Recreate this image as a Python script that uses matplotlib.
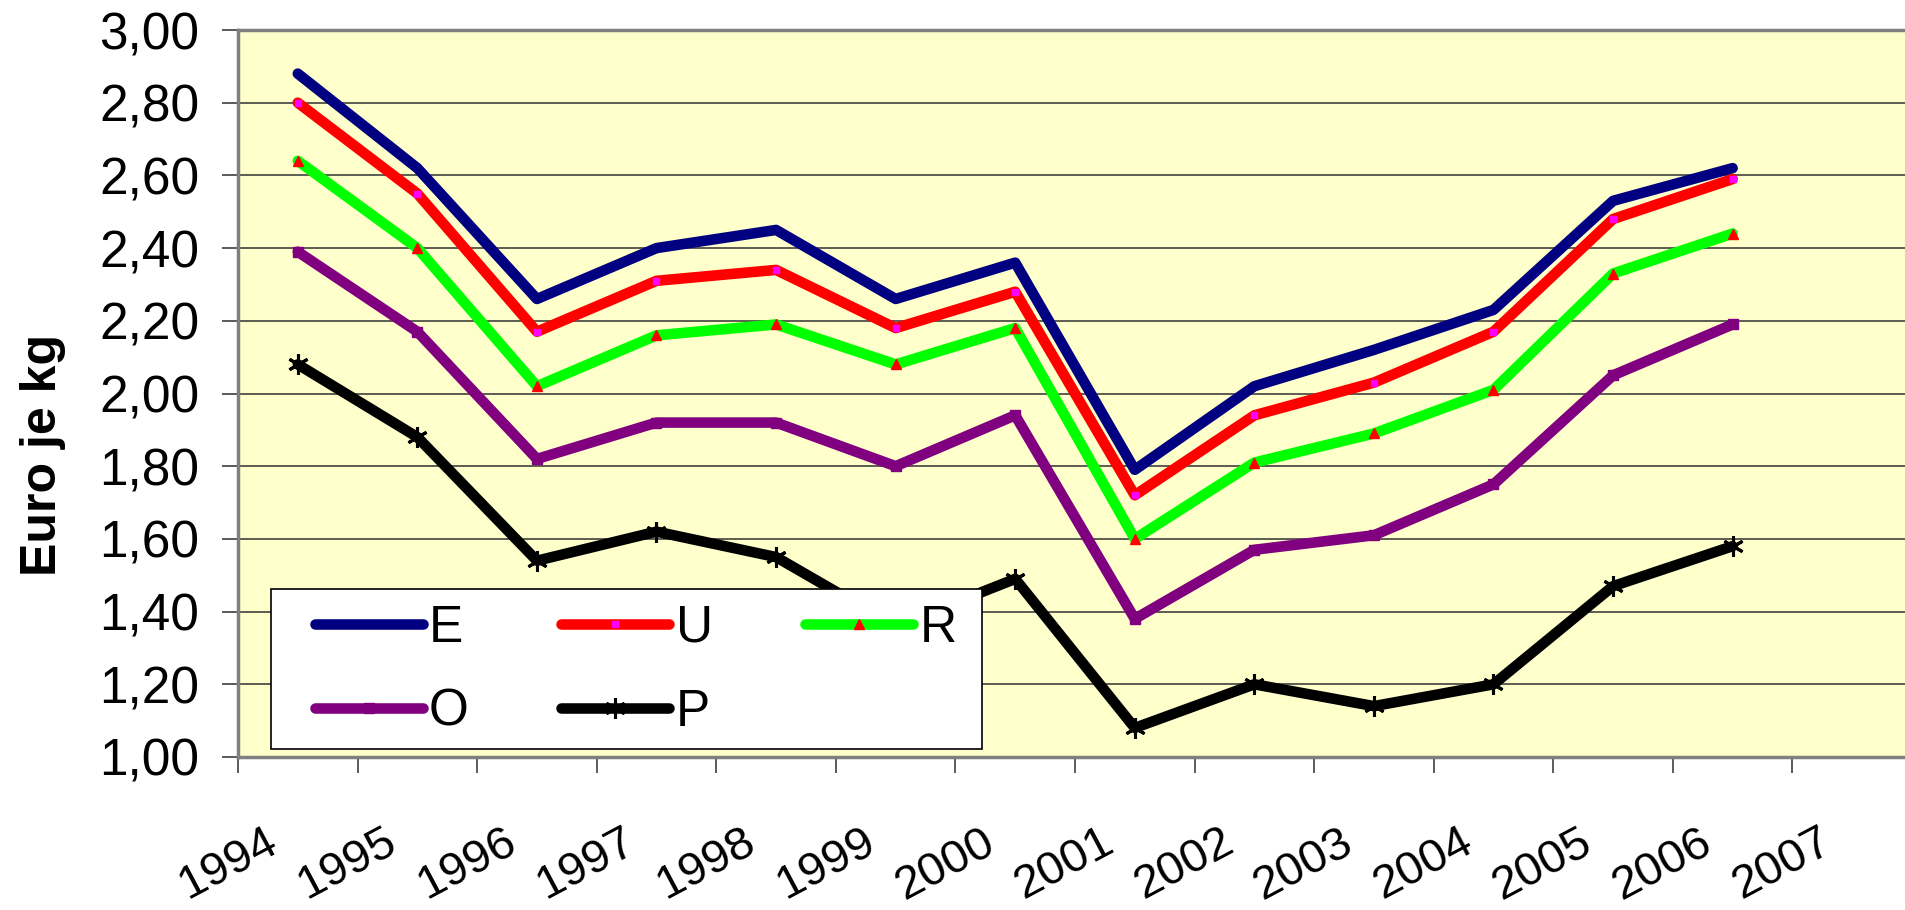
"""Euro je kg, 1994-2007: five price series as thick lines over a pale yellow
plot area, Excel-style legend box sitting over the lower left."""
import matplotlib
matplotlib.use("Agg")
import matplotlib.pyplot as plt
import matplotlib.transforms as mtransforms
from matplotlib.patches import Rectangle
from matplotlib.ticker import FuncFormatter, FixedLocator

plt.rcParams["font.family"] = ["Liberation Sans", "DejaVu Sans"]

years = ["1994", "1995", "1996", "1997", "1998", "1999", "2000",
         "2001", "2002", "2003", "2004", "2005", "2006", "2007"]
E = [2.88, 2.62, 2.26, 2.40, 2.45, 2.26, 2.36, 1.79, 2.02, 2.12, 2.23, 2.53, 2.62]
U = [2.80, 2.55, 2.17, 2.31, 2.34, 2.18, 2.28, 1.72, 1.94, 2.03, 2.17, 2.48, 2.59]
R = [2.64, 2.40, 2.02, 2.16, 2.19, 2.08, 2.18, 1.60, 1.81, 1.89, 2.01, 2.33, 2.44]
O = [2.39, 2.17, 1.82, 1.92, 1.92, 1.80, 1.94, 1.38, 1.57, 1.61, 1.75, 2.05, 2.19]
P = [2.08, 1.88, 1.54, 1.62, 1.55, 1.36, 1.49, 1.08, 1.20, 1.14, 1.20, 1.47, 1.58]
y_ticks = [1.0, 1.2, 1.4, 1.6, 1.8, 2.0, 2.2, 2.4, 2.6, 2.8, 3.0]

W, H, DPI = 1906, 910, 100
FS = 37

fig = plt.figure(figsize=(W / DPI, H / DPI), dpi=DPI)
# plot area in pixels: left 238, right 1912 (runs off the edge), top 30, bottom 757
ax = fig.add_axes([238 / W, 1 - 757 / H, (1912 - 238) / W, (757 - 30) / H])
ax.set_facecolor("#FFFFCC")

x = list(range(len(E)))
common = dict(lw=7.6, solid_capstyle="round", solid_joinstyle="round", zorder=3)
lE, = ax.plot(x, E, color="#000080", label="E", **common)
lU, = ax.plot(x, U, color="#FF0000", marker="s", ms=4.5, mfc="#FF00FF", mec="#FF00FF",
              label="U", **common)
lR, = ax.plot(x, R, color="#00FF00", marker="^", ms=7, mfc="#FF0000", mec="#FF0000",
              label="R", **common)
lO, = ax.plot(x, O, color="#800080", marker="s", ms=6.5, mfc="#800080", mec="#800080",
              label="O", **common)
lP, = ax.plot(x, P, color="#000000", marker=(6, 2, 0), ms=15, mew=2.2, mec="#000000",
              label="P", **common)

ax.set_xlim(-0.5, len(years) - 0.5)
ax.set_ylim(1.0, 3.0)
ax.set_yticks(y_ticks)
ax.yaxis.set_major_formatter(FuncFormatter(lambda v, _: f"{v:.2f}".replace(".", ",")))
ax.grid(axis="y", color="#303030", lw=1.1, zorder=1)

ax.set_xticks(range(len(years)))
ax.set_xticklabels(years, rotation=28, ha="right", va="top", rotation_mode="anchor")
ax.xaxis.set_minor_locator(FixedLocator([i - 0.5 for i in range(len(years) + 1)]))
ax.tick_params(axis="x", which="major", length=0, pad=45.4, labelsize=34)
ax.tick_params(axis="x", which="minor", length=11.5, width=1.2, color="#404040")
ax.tick_params(axis="y", length=11.5, width=1.2, color="#404040", pad=16.5, labelsize=FS)
shift = mtransforms.ScaledTranslation(-0.34, 0, fig.dpi_scale_trans)
for lab in ax.get_xticklabels():
    lab.set_transform(lab.get_transform() + shift)

for side in ("left", "bottom", "top"):
    ax.spines[side].set_color("#808080")
    ax.spines[side].set_linewidth(2.5)
ax.spines["right"].set_visible(False)

ax.set_ylabel("Euro je kg", fontsize=36, fontweight="bold")
ax.yaxis.set_label_coords(66 / W, 0.5, transform=fig.transFigure)

# legend: white box drawn by hand, entries placed inside it (rows E U R / O P)
box = Rectangle((271 / W, 1 - 749 / H), 711 / W, 160 / H, transform=fig.transFigure,
                facecolor="white", edgecolor="black", lw=1.2, zorder=4, clip_on=False)
ax.add_patch(box)
leg = ax.legend([lE, lO, lU, lP, lR], ["E", "O", "U", "P", "R"], ncol=3,
                loc="upper left", bbox_to_anchor=(315 / W, 1 - 604 / H),
                bbox_transform=fig.transFigure, frameon=False, fontsize=FS,
                borderpad=0, borderaxespad=0, handlelength=2.1, handletextpad=0.12,
                columnspacing=1.8, labelspacing=0.68, numpoints=1)
leg.set_zorder(5)

fig.savefig("out.png", dpi=DPI)
